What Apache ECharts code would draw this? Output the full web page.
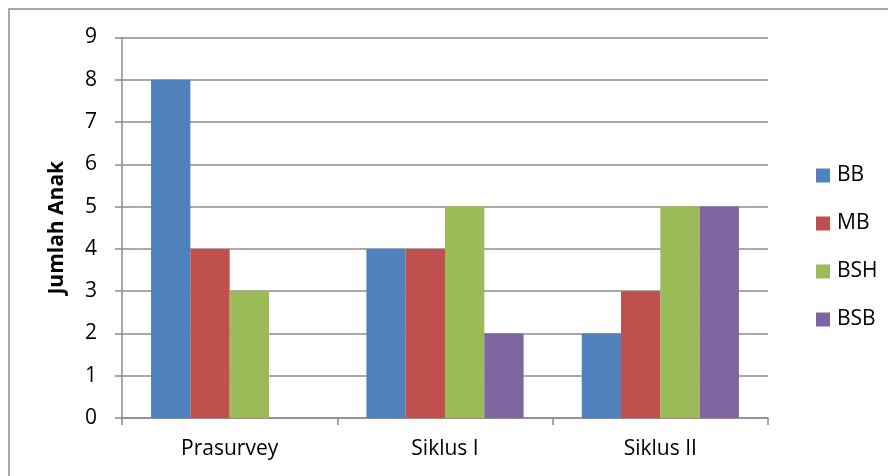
<!DOCTYPE html>
<html>
<head>
<meta charset="utf-8">
<script src="https://cdn.jsdelivr.net/npm/echarts@6/dist/echarts.min.js"></script>
<style>
  html, body { margin: 0; padding: 0; background: #fff; }
  #chart { width: 888px; height: 476px; }
</style>
</head>
<body>
<div id="chart"></div>
<script>
// data
const categories = ['Prasurvey', 'Siklus I', 'Siklus II']
const seriesNames = ['BB', 'MB', 'BSH', 'BSB']
const bbValues = [8, 4, 2]
const mbValues = [4, 4, 3]
const bshValues = [3, 5, 5]
const bsbValues = [0, 2, 5]
const colors = ['#4F81BD', '#C0504D', '#9BBB59', '#8064A2']

const font = '"Open Sans", "Noto Sans", sans-serif'
const lineColor = '#8c8c8c'

const chart = echarts.init(document.getElementById('chart'))

const seriesData = [bbValues, mbValues, bshValues, bsbValues]
const series = seriesNames.map((name, i) => ({
  name: name,
  type: 'bar',
  data: seriesData[i],
  barGap: '0%',
  barCategoryGap: '27%',
  itemStyle: { color: colors[i] },
  emphasis: { disabled: true },
}))

chart.setOption({
  animation: false,
  textStyle: { fontFamily: font },
  // outer chart border (runs off right and bottom edges)
  graphic: [{
    type: 'rect',
    shape: { x: 9, y: 9, width: 1000, height: 600 },
    style: { fill: 'none', stroke: lineColor, lineWidth: 1.5 },
    silent: true,
  }],
  grid: { left: 122, right: 120, top: 37.5, bottom: 58 },
  legend: {
    orient: 'vertical',
    left: 811,
    top: 160,
    itemWidth: 14,
    itemHeight: 14,
    itemGap: 27,
    icon: 'rect',
    textStyle: { fontFamily: font, fontSize: 21, color: '#000', padding: [0, 0, 0, 2] },
    data: seriesNames,
  },
  xAxis: {
    type: 'category',
    data: categories,
    axisLine: { lineStyle: { color: lineColor, width: 1.5 } },
    axisTick: { show: true, length: 7, lineStyle: { color: lineColor, width: 1.5 } },
    axisLabel: { fontFamily: font, fontSize: 21, color: '#000', margin: 21 },
  },
  yAxis: {
    type: 'value',
    min: 0,
    max: 9,
    interval: 1,
    name: 'Jumlah Anak',
    nameLocation: 'middle',
    nameGap: 54,
    nameTextStyle: { fontFamily: font, fontSize: 21, fontWeight: 'bold', color: '#000' },
    axisLine: { show: true, lineStyle: { color: lineColor, width: 1.5 } },
    axisTick: { show: true, length: 7, lineStyle: { color: lineColor, width: 1.5 } },
    axisLabel: { fontFamily: font, fontSize: 21, color: '#000', margin: 25 },
    splitLine: { lineStyle: { color: lineColor, width: 1.5 } },
  },
  series: series,
})
</script>
</body>
</html>
